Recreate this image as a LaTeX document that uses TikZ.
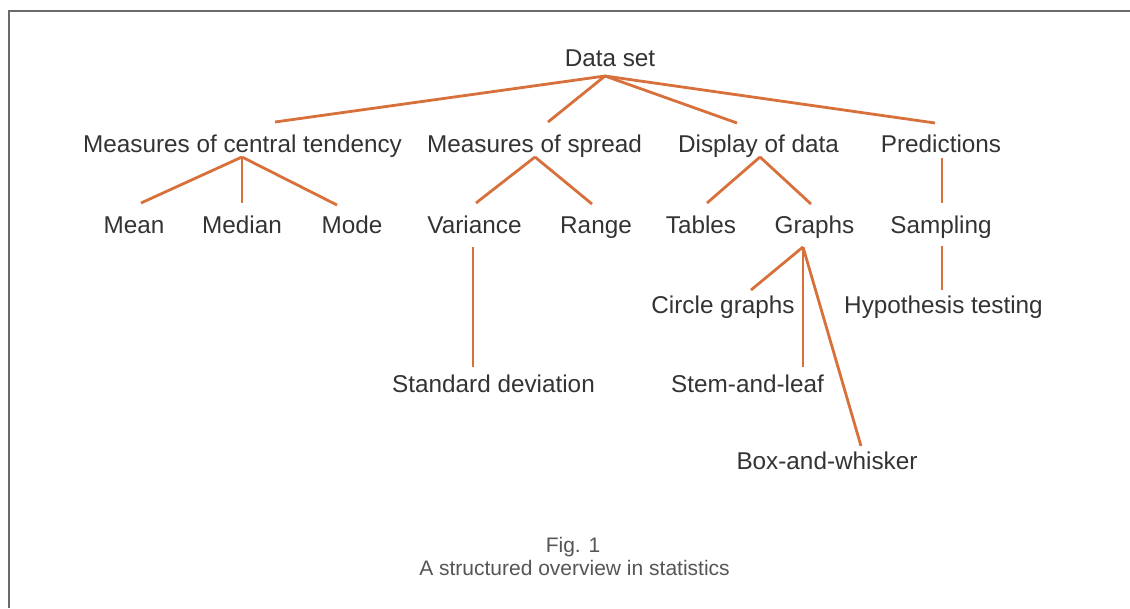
\documentclass[tikz,border=0pt]{standalone}
\usepackage{fontspec}
\setmainfont{Liberation Sans}
\usetikzlibrary{calc}
\definecolor{linkorange}{HTML}{D8703C}
\definecolor{labelgray}{HTML}{333333}
\definecolor{captiongray}{HTML}{555555}
\definecolor{framegray}{HTML}{6A6A6A}
\tikzset{
  term/.style={anchor=base, inner sep=0pt, text=labelgray,
    font=\fontsize{24.3}{28}\selectfont},
  captiontext/.style={anchor=base, inner sep=0pt, text=captiongray,
    font=\fontsize{21}{25}\selectfont},
  link/.style={draw=linkorange, line width=2.8pt},
  frameline/.style={draw=framegray, line width=2pt}
}
\begin{document}
\begin{tikzpicture}[x=1pt, y=-1pt]
\useasboundingbox (0,0) rectangle (1130,608);
\draw[frameline] (8.5,608) -- (8.5,11) -- (1130,11);

% root and first level
\node[term] (ds)  at (610,66)    {Data set};
\node[term] (mct) at (242.5,152) {Measures of central tendency};
\node[term] (ms)  at (534.5,152) {Measures of spread};
\node[term] (dd)  at (758.5,152) {Display of data};
\node[term] (pr)  at (941,152)   {Predictions};

% second level
\node[term] (mean)   at (134,233)   {Mean};
\node[term] (median) at (242,233)   {Median};
\node[term] (mode)   at (352,233)   {Mode};
\node[term] (var)    at (474.5,233) {Variance};
\node[term] (range)  at (596,233)   {Range};
\node[term] (tab)    at (701,233)   {Tables};
\node[term] (graphs) at (814.5,233) {Graphs};
\node[term] (samp)   at (941,233)   {Sampling};

% deeper levels
\node[term] (circ) at (723,313)   {Circle graphs};
\node[term] (hyp)  at (943.5,313) {Hypothesis testing};
\node[term] (sd)   at (493.5,392) {Standard deviation};
\node[term] (stem) at (747.5,392) {Stem-and-leaf};
\node[term] (box)  at (827,469)   {Box-and-whisker};

% caption
\node[captiontext] (fig) at (573,552)   {Fig. 1};
\node[captiontext] (cap) at (574.5,575) {A structured overview in statistics};

% connectors from the root
\draw[link] ($(ds.base)+(-5,10)$) -- ($(mct.base)+(32.5,-30)$);
\draw[link] ($(ds.base)+(-5,10)$) -- ($(ms.base)+(13.5,-30)$);
\draw[link] ($(ds.base)+(-5,10)$) -- ($(dd.base)+(-21.5,-29)$);
\draw[link] ($(ds.base)+(-5,10)$) -- ($(pr.base)+(-6,-29)$);

% central tendency
\draw[link] ($(mct.base)+(-0.5,5)$) -- ($(mean.base)+(7,-30)$);
\draw[link] ($(mct.base)+(-0.5,5)$) -- ($(median.base)+(0,-30)$);
\draw[link] ($(mct.base)+(-0.5,5)$) -- ($(mode.base)+(-15,-28)$);

% spread
\draw[link] ($(ms.base)+(0.5,5)$) -- ($(var.base)+(1.5,-30)$);
\draw[link] ($(ms.base)+(0.5,5)$) -- ($(range.base)+(-4,-29)$);
\draw[link] ($(var.base)+(-1.5,14)$) -- ($(sd.base)+(-20.5,-25)$);

% display of data
\draw[link] ($(dd.base)+(1.5,5)$) -- ($(tab.base)+(6,-30)$);
\draw[link] ($(dd.base)+(1.5,5)$) -- ($(graphs.base)+(-3.5,-29)$);
\draw[link] ($(graphs.base)+(-11.5,14)$) -- ($(circ.base)+(28,-23)$);
\draw[link] ($(graphs.base)+(-11.5,14)$) -- ($(stem.base)+(55.5,-25)$);
\draw[link] ($(graphs.base)+(-11.5,14)$) -- ($(box.base)+(34,-23)$);

% predictions
\draw[link] ($(pr.base)+(1,6)$) -- ($(samp.base)+(1,-30)$);
\draw[link] ($(samp.base)+(1,13)$) -- ($(hyp.base)+(-1.5,-23)$);
\end{tikzpicture}
\end{document}
